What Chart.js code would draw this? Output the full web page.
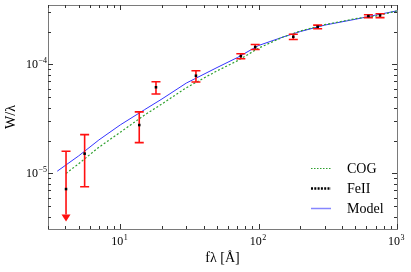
<!DOCTYPE html>
<html>
<head>
<meta charset="utf-8">
<script src="https://cdn.jsdelivr.net/npm/chart.js@4/dist/chart.umd.min.js"></script>
<style>
  body { margin: 0; background: #fff; }
  #wrap { position: relative; width: 411px; height: 272px; }
</style>
</head>
<body>
<div id="wrap"><canvas id="cog"></canvas></div>
<script>
    // FeII measurements: f*lambda [A], W/lambda and the error range
    let feX  = [4.05, 5.52, 13.7, 18.1, 35.2, 74.3, 94.4, 178, 267, 621, 754];
    let feY  = [7.2e-6, 1.52e-5, 2.78e-5, 6.17e-5, 7.87e-5, 1.19e-4, 1.44e-4, 1.79e-4, 2.21e-4, 2.77e-4, 2.81e-4];
    let feHi = [1.6e-5, 2.27e-5, 3.67e-5, 6.93e-5, 8.74e-5, 1.25e-4, 1.52e-4, 1.89e-4, 2.29e-4, 2.85e-4, 2.91e-4];
    let feLo = [4.2e-6, 7.55e-6, 1.92e-5, 5.36e-5, 6.89e-5, 1.125e-4, 1.37e-4, 1.69e-4, 2.12e-4, 2.68e-4, 2.68e-4];
    // 1 = upper limit (drawn with an arrow)
    let feLimit = [1, 0, 0, 0, 0, 0, 0, 0, 0, 0, 0];

    // curve of growth
    let cogX = [4.05, 5, 7, 10, 15, 20, 30, 50, 70, 100, 150, 200, 300, 500, 700, 1000];
    let cogY = [1.0e-5, 1.23e-5, 1.74e-5, 2.39e-5, 3.44e-5, 4.34e-5, 6.11e-5, 8.72e-5, 1.076e-4, 1.41e-4, 1.78e-4, 2.02e-4, 2.31e-4, 2.62e-4, 2.77e-4, 3.09e-4];

    // model curve
    let modelX = [3.5, 5, 7, 10, 15, 20, 30, 50, 70, 100, 150, 200, 300, 500, 700, 1000];
    let modelY = [1.05e-5, 1.45e-5, 2.03e-5, 2.79e-5, 3.85e-5, 4.82e-5, 6.74e-5, 9.35e-5, 1.153e-4, 1.49e-4, 1.78e-4, 2.0e-4, 2.29e-4, 2.59e-4, 2.83e-4, 3.09e-4];

    // decade labels
    let xLabelVals = [10, 100, 1000];
    let yLabelVals = [1e-5, 1e-4];

    let xMin = 3, xMax = 1000;
    let yMin = 3.1e-6, yMax = 3.5e-4;

    let serif = "'Liberation Serif', 'Times New Roman', serif";
    let green = '#2ea02e';
    let blue = '#3535ff';

    // log tick values 1..9 per decade within the range
    function logTicks(lo, hi) {
        let out = [];
        for (let e = Math.floor(Math.log10(lo)); e <= Math.ceil(Math.log10(hi)); e++) {
            for (let m = 1; m < 10; m++) {
                let v = m * Math.pow(10, e);
                if (v >= lo * 0.999 && v <= hi * 1.001) out.push(v);
            }
        }
        return out;
    }
    let xTickVals = logTicks(xMin, xMax);
    let yTickVals = logTicks(yMin, yMax);

    function isDecade(v) {
        let e = Math.log10(v);
        return Math.abs(e - Math.round(e)) < 1e-6;
    }

    // "10" with a raised exponent; align 'center' or 'right'
    function drawPow(ctx, v, x, y, align) {
        let e = Math.round(Math.log10(v));
        let expText = (e < 0 ? '\u2212' : '') + Math.abs(e);
        ctx.font = '12px ' + serif;
        let wb = ctx.measureText('10').width;
        ctx.font = '8px ' + serif;
        let we = ctx.measureText(expText).width;
        let left = align === 'right' ? x - wb - we : x - (wb + we) / 2;
        ctx.textAlign = 'left';
        ctx.textBaseline = 'alphabetic';
        ctx.font = '12px ' + serif;
        ctx.fillText('10', left, y);
        ctx.font = '8px ' + serif;
        ctx.fillText(expText, left + wb + 0.5, y - 5);
    }

    let toPts = (xs, ys) => xs.map((x, i) => ({x: x, y: ys[i]}));

    //error bars, inward ticks, frame, tick labels and legend
    let extras = {
        id: 'extras',
        beforeDatasetDraw: function (chart, args) {
            if (args.index !== 0) return;
            let ctx = chart.ctx;
            let xs = chart.scales.x, ys = chart.scales.y;
            ctx.save();
            ctx.strokeStyle = '#ff1010';
            ctx.fillStyle = '#ff1010';
            ctx.lineWidth = 1.6;
            for (let i = 0; i < feX.length; i++) {
                let px = xs.getPixelForValue(feX[i]);
                let top = ys.getPixelForValue(feHi[i]);
                let bot = ys.getPixelForValue(feLo[i]);
                ctx.beginPath();
                ctx.moveTo(px, top);
                ctx.lineTo(px, bot);
                ctx.moveTo(px - 4.5, top);
                ctx.lineTo(px + 4.5, top);
                if (!feLimit[i]) {
                    ctx.moveTo(px - 4.5, bot);
                    ctx.lineTo(px + 4.5, bot);
                }
                ctx.stroke();
                if (feLimit[i]) {
                    ctx.beginPath();
                    ctx.moveTo(px - 4.5, bot);
                    ctx.lineTo(px + 4.5, bot);
                    ctx.lineTo(px, bot + 7);
                    ctx.closePath();
                    ctx.fill();
                }
            }
            ctx.restore();
        },
        afterDraw: function (chart) {
            let ctx = chart.ctx;
            let ca = chart.chartArea;
            let xs = chart.scales.x, ys = chart.scales.y;
            ctx.save();
            ctx.strokeStyle = '#7a7a7a';
            ctx.lineWidth = 1;
            ctx.strokeRect(Math.round(ca.left) + 0.5, Math.round(ca.top) + 0.5,
                Math.round(ca.right - ca.left), Math.round(ca.bottom - ca.top));
            ctx.strokeStyle = '#333';
            ctx.beginPath();
            xTickVals.forEach(v => {
                let px = Math.round(xs.getPixelForValue(v)) + 0.5;
                let len = isDecade(v) ? 5 : 3;
                ctx.moveTo(px, ca.bottom); ctx.lineTo(px, ca.bottom - len);
                ctx.moveTo(px, ca.top); ctx.lineTo(px, ca.top + len);
            });
            yTickVals.forEach(v => {
                let py = Math.round(ys.getPixelForValue(v)) + 0.5;
                let len = isDecade(v) ? 5 : 3;
                ctx.moveTo(ca.left, py); ctx.lineTo(ca.left + len, py);
                ctx.moveTo(ca.right, py); ctx.lineTo(ca.right - len, py);
            });
            ctx.stroke();

            // tick labels
            ctx.fillStyle = '#000';
            xLabelVals.forEach(v => drawPow(ctx, v, xs.getPixelForValue(v) - 1, ca.bottom + 16, 'center'));
            yLabelVals.forEach(v => drawPow(ctx, v, ca.left - 1.5, ys.getPixelForValue(v) + 4, 'right'));

            // legend
            let rows = [
                {text: 'COG', color: green, dash: [1.5, 1.5], width: 1},
                {text: 'FeII', color: '#000', dash: [2, 1.3], width: 2.5},
                {text: 'Model', color: 'rgba(53,53,255,0.6)', dash: [], width: 1.5}
            ];
            ctx.font = '14px ' + serif;
            ctx.textAlign = 'left';
            ctx.textBaseline = 'middle';
            rows.forEach((r, i) => {
                let y = ca.bottom - 60.5 + i * 20;
                ctx.beginPath();
                ctx.setLineDash(r.dash);
                ctx.strokeStyle = r.color;
                ctx.lineWidth = r.width;
                ctx.moveTo(ca.right - 86, y);
                ctx.lineTo(ca.right - 66, y);
                ctx.stroke();
                ctx.fillText(r.text, ca.right - 50, y + 1);
            });
            ctx.restore();
        }
    };

    let ctx = document.getElementById('cog').getContext('2d');
    let chart = new Chart(ctx, {
        type: 'scatter',
        data: {
            datasets: [{
                label: 'FeII',
                data: toPts(feX, feY),
                showLine: false,
                pointStyle: 'rect',
                pointRadius: 1.8,
                backgroundColor: '#000',
                borderColor: '#000',
                borderWidth: 0
            }, {
                label: 'COG',
                data: toPts(cogX, cogY),
                showLine: true,
                pointRadius: 0,
                borderColor: green,
                borderWidth: 1.2,
                borderDash: [2, 2]
            }, {
                label: 'Model',
                data: toPts(modelX, modelY),
                showLine: true,
                pointRadius: 0,
                borderColor: blue,
                borderWidth: 1
            }]
        },
        options: {
            responsive: true,
            maintainAspectRatio: false,
            animation: false,
            layout: {padding: {left: 0, right: 14, top: 5, bottom: 0}},
            plugins: {legend: {display: false}, tooltip: {enabled: false}},
            scales: {
                x: {
                    type: 'logarithmic',
                    min: xMin, max: xMax,
                    bounds: 'data',
                    grid: {display: false, drawTicks: false},
                    border: {display: false},
                    afterBuildTicks: s => { s.ticks = xTickVals.map(v => ({value: v})); },
                    afterFit: s => { s.height = 43; },
                    ticks: {display: false},
                    title: {
                        display: true, text: 'f\u03BB [\u00C5]', color: '#000',
                        font: {family: serif, size: 14}, padding: {top: 0, bottom: 5}
                    }
                },
                y: {
                    type: 'logarithmic',
                    min: yMin, max: yMax,
                    bounds: 'data',
                    grid: {display: false, drawTicks: false},
                    border: {display: false},
                    afterBuildTicks: s => { s.ticks = yTickVals.map(v => ({value: v})); },
                    afterFit: s => { s.width = 48; },
                    ticks: {display: false},
                    title: {
                        display: true, text: 'W/\u03BB', color: '#000',
                        font: {family: serif, size: 14}, padding: {top: 3, bottom: 0}
                    }
                }
            }
        },
        plugins: [extras]
    });
</script>
</body>
</html>
